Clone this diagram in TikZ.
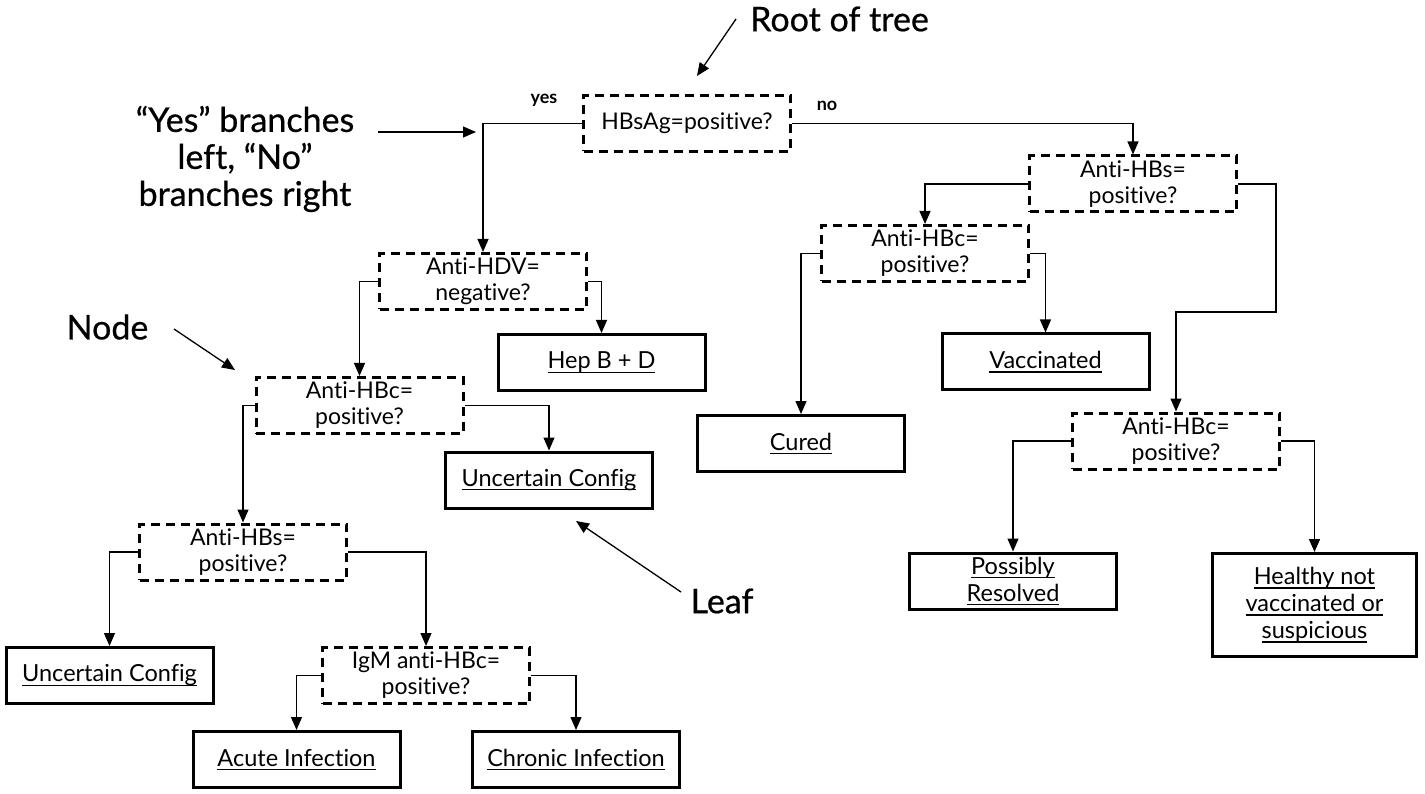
\documentclass[tikz,border=0pt]{standalone}
\usepackage{fontspec}
\setmainfont{Lato}[Ligatures={NoCommon}]
\newfontfamily\annotfont{Lato}[Ligatures={NoCommon},FakeBold=0.6]
\newcommand{\ulx}[1]{\setbox0\hbox{#1}\rlap{\rule[-4pt]{\wd0}{1.4pt}}\box0}
\usetikzlibrary{arrows.meta}
\tikzset{
  qbox/.style={draw, line width=3pt, dash pattern=on 9pt off 6pt, minimum width=207pt, minimum height=56pt, align=center, inner sep=0pt, font=\fontsize{23}{26}\selectfont},
  leafbox/.style={draw, line width=3pt, minimum width=207pt, minimum height=56pt, align=center, inner sep=0pt, font=\fontsize{23.5}{27}\selectfont},
  conn/.style={line width=1.3pt, -{Triangle[length=13pt,width=11pt]}},
  annot/.style={align=center, font=\annotfont\fontsize{34}{37}\selectfont},
  yn/.style={font=\bfseries\fontsize{18}{20}\selectfont},
}
\begin{document}
\begin{tikzpicture}[x=1pt,y=-1pt]
\useasboundingbox (0,0) rectangle (1425,794);
% decision nodes
\node[qbox] (root) at (687,123.5) {HBsAg=positive?};
\node[qbox] (ahbsR) at (1133,184) {Anti-HBs=\\positive?};
\node[qbox] (ahbcM) at (925,253.5) {Anti-HBc=\\positive?};
\node[qbox] (ahbcR) at (1176,441) {Anti-HBc=\\positive?};
\node[qbox] (ahdv) at (483,281.5) {Anti-HDV=\\negative?};
\node[qbox] (ahbcL) at (359.5,405.5) {Anti-HBc=\\positive?};
\node[qbox] (ahbsL) at (243,552) {Anti-HBs=\\positive?};
\node[qbox] (igm) at (426,675.5) {IgM anti-HBc=\\positive?};
% leaves
\node[leafbox] (vacc) at (1045.5,362) {\ulx{Vaccinated}};
\node[leafbox] (cured) at (801,443.5) {\ulx{Cured}};
\node[leafbox] (poss) at (1013,581) {\ulx{Possibly}\\\ulx{Resolved}};
\node[leafbox, minimum height=103pt, minimum width=204pt] (healthy) at (1314.5,605) {\ulx{Healthy not}\\\ulx{vaccinated or}\\\ulx{suspicious}};
\node[leafbox] (hepbd) at (601.5,362.5) {\ulx{Hep B + D}};
\node[leafbox] (unc1) at (549,480) {\ulx{Uncertain Config}};
\node[leafbox] (unc2) at (109.5,675.5) {\ulx{Uncertain Config}};
\node[leafbox] (acute) at (296.5,759.5) {\ulx{Acute Infection}};
\node[leafbox] (chronic) at (576,759.5) {\ulx{Chronic Infection}};
% yes / no labels
\node[yn] (yes) at (544,100) {yes};
\node[yn] (no) at (827,106) {no};
% connectors
\draw[conn] (root.west) -| (ahdv.north);
\draw[conn] (root.east) -| (ahbsR.north);
\draw[conn] (ahbsR.west) -| (ahbcM.north);
\coordinate (bend) at (1276,312);
\draw[conn] (ahbsR.east) -| (bend) -| (ahbcR.north);
\draw[conn] (ahbcM.west) -| (cured.north);
\draw[conn] (ahbcM.east) -| (vacc.north);
\draw[conn] (ahbcR.west) -| (poss.north);
\draw[conn] (ahbcR.east) -| (healthy.north);
\draw[conn] (ahdv.west) -| (ahbcL.north);
\draw[conn] (ahdv.east) -| (hepbd.north);
\draw[conn] (ahbcL.west) -| (ahbsL.north);
\draw[conn] (ahbcL.east) -| (unc1.north);
\draw[conn] (ahbsL.west) -| (unc2.north);
\draw[conn] (ahbsL.east) -| (igm.north);
\draw[conn] (igm.west) -| (acute.north);
\draw[conn] (igm.east) -| (chronic.north);
% annotations
\node[annot] (troot) at (839.5,19) {Root of tree};
\coordinate (rootA) at (736,19);
\coordinate (rootB) at (697,76);
\draw[conn] (rootA) -- (rootB);
\node[annot] (tyes) at (245,159) {“Yes” branches\\left, “No”\\branches right};
\coordinate (yesA) at (378,132);
\coordinate (yesB) at (476,132);
\draw[conn] (yesA) -- (yesB);
\node[annot] (tnode) at (107.5,327) {Node};
\coordinate (nodeA) at (174,329);
\coordinate (nodeB) at (235,370);
\draw[conn] (nodeA) -- (nodeB);
\node[annot] (tleaf) at (722,601) {Leaf};
\coordinate (leafA) at (681,592);
\coordinate (leafB) at (576,521);
\draw[conn] (leafA) -- (leafB);
\end{tikzpicture}
\end{document}
